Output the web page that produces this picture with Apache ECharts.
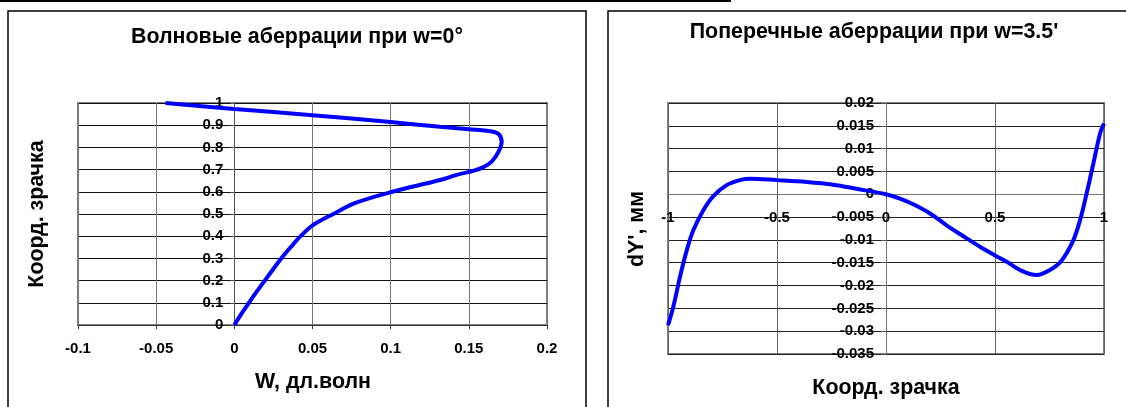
<!DOCTYPE html>
<html>
<head>
<meta charset="utf-8">
<script src="https://cdn.jsdelivr.net/npm/echarts@6/dist/echarts.min.js"></script>
<style>
html,body{margin:0;padding:0;background:#fff;}
#c{width:1126px;height:407px;}
</style>
</head>
<body>
<div id="c"></div>
<script>
// ---- Left chart: wave aberrations (W vs pupil coordinate)
const waveW = [0, 0.0045, 0.0093, 0.0143, 0.0195, 0.0247, 0.030, 0.036, 0.0424, 0.0503, 0.0633, 0.0775, 0.101, 0.1316, 0.1422, 0.153, 0.159, 0.1646, 0.169, 0.171, 0.169, 0.1635, 0.150, 0.1316, 0.100, 0.050, 0, -0.044];
const wavePupil = [0, 0.05, 0.1, 0.15, 0.2, 0.25, 0.3, 0.35, 0.4, 0.45, 0.5, 0.55, 0.6, 0.653, 0.676, 0.695, 0.71, 0.736, 0.781, 0.826, 0.86, 0.873, 0.882, 0.893, 0.914, 0.945, 0.973, 1.0];
const leftXTicks = [-0.1, -0.05, 0, 0.05, 0.1, 0.15, 0.2];
const leftYTicks = [0, 0.1, 0.2, 0.3, 0.4, 0.5, 0.6, 0.7, 0.8, 0.9, 1];

// ---- Right chart: transverse aberrations (dY' vs pupil coordinate)
const transPupil = [-1, -0.976, -0.945, -0.914, -0.884, -0.838, -0.792, -0.731, -0.67, -0.624, -0.5, -0.364, -0.242, -0.135, 0, 0.064, 0.125, 0.202, 0.278, 0.355, 0.431, 0.5, 0.554, 0.615, 0.691, 0.752, 0.806, 0.859, 0.89, 0.92, 0.951, 0.982, 1];
const transDY = [-0.0287, -0.0247, -0.0181, -0.0123, -0.0079, -0.0035, -0.0004, 0.0020, 0.0031, 0.0034, 0.0031, 0.0027, 0.0021, 0.0012, 0.0000, -0.00095, -0.0022, -0.0042, -0.0068, -0.0092, -0.0115, -0.0134, -0.0148, -0.0166, -0.0177, -0.0166, -0.0145, -0.0101, -0.0057, 0.0001, 0.0067, 0.0133, 0.0155];
const rightXTicks = [-1, -0.5, 0, 0.5, 1];
const rightYTicks = [-0.035, -0.03, -0.025, -0.02, -0.015, -0.01, -0.005, 0, 0.005, 0.01, 0.015, 0.02];

const titles = ['Волновые аберрации при w=0°', "Поперечные аберрации при w=3.5'"];
const axisNames = { leftX: 'W, дл.волн', leftY: 'Коорд. зрачка', rightX: 'Коорд. зрачка', rightY: "dY', мм" };

const FONT = "'Liberation Sans', Arial, sans-serif";
const labelStyle = { color: '#000', fontWeight: 'bold', fontSize: 15, fontFamily: FONT };

const leftData = waveW.map((w, i) => [w, wavePupil[i]]);
const rightData = transPupil.map((x, i) => [x, transDY[i]]);

function step(t) { return +(t[1] - t[0]).toFixed(6); }
function first(t) { return t[0]; }
function last(t) { return t[t.length - 1]; }

// grid boxes
const G1 = { left: 78, top: 103, width: 469, height: 222 };
const G2 = { left: 668, top: 103, width: 436, height: 251 };

// axis crossing at zero: offsets from the grid edge (axis layout, derived from scale ranges)
const leftYOffset = -(0 - first(leftXTicks)) / (last(leftXTicks) - first(leftXTicks)) * G1.width;
const rightYOffset = -(0 - first(rightXTicks)) / (last(rightXTicks) - first(rightXTicks)) * G2.width;
const rightXOffset = -(0 - first(rightYTicks)) / (last(rightYTicks) - first(rightYTicks)) * G2.height;

const chart = echarts.init(document.getElementById('c'), null, { renderer: 'canvas' });
chart.setOption({
  animation: false,
  backgroundColor: '#fff',
  title: [
    { text: titles[0], left: 297, top: 27, textAlign: 'center', padding: 0,
      textStyle: { fontSize: 21.4, fontWeight: 'bold', color: '#000', fontFamily: FONT } },
    { text: titles[1], left: 874, top: 22, textAlign: 'center', padding: 0,
      textStyle: { fontSize: 21.4, fontWeight: 'bold', color: '#000', fontFamily: FONT } }
  ],
  grid: [
    Object.assign({ show: true, borderColor: '#808080', borderWidth: 2, backgroundColor: 'transparent' }, G1),
    Object.assign({ show: true, borderColor: '#808080', borderWidth: 2, backgroundColor: 'transparent' }, G2)
  ],
  xAxis: [
    { type: 'value', gridIndex: 0, min: first(leftXTicks), max: last(leftXTicks), interval: step(leftXTicks),
      position: 'bottom',
      axisLine: { show: true, onZero: false, lineStyle: { color: '#333', width: 1 } },
      axisTick: { show: true, inside: false, length: 4, lineStyle: { color: '#333' } },
      axisLabel: Object.assign({ margin: 16 }, labelStyle),
      splitLine: { show: true, lineStyle: { color: '#777', width: 1 } } },
    { type: 'value', gridIndex: 1, min: first(rightXTicks), max: last(rightXTicks), interval: step(rightXTicks),
      position: 'bottom', offset: rightXOffset,
      axisLine: { show: true, onZero: false, lineStyle: { color: '#777', width: 1 } },
      axisTick: { show: true, inside: false, length: 4, lineStyle: { color: '#555' } },
      axisLabel: Object.assign({ margin: 16 }, labelStyle),
      splitLine: { show: true, lineStyle: { color: '#666', width: 1 } } }
  ],
  yAxis: [
    { type: 'value', gridIndex: 0, min: first(leftYTicks), max: last(leftYTicks), interval: step(leftYTicks),
      position: 'left', offset: leftYOffset,
      axisLine: { show: true, onZero: false, lineStyle: { color: '#555', width: 1 } },
      axisTick: { show: true, inside: false, length: 4, lineStyle: { color: '#555' } },
      axisLabel: Object.assign({ margin: 11 }, labelStyle),
      splitLine: { show: true, lineStyle: { color: '#111', width: 1 } } },
    { type: 'value', gridIndex: 1, min: first(rightYTicks), max: last(rightYTicks), interval: step(rightYTicks),
      position: 'left', offset: rightYOffset,
      axisLine: { show: true, onZero: false, lineStyle: { color: '#777', width: 1 } },
      axisTick: { show: true, inside: false, length: 5, lineStyle: { color: '#555' } },
      axisLabel: Object.assign({ margin: 12 }, labelStyle),
      splitLine: { show: true, lineStyle: { color: '#222', width: 1 } } }
  ],
  series: [
    { type: 'line', xAxisIndex: 0, yAxisIndex: 0, data: leftData, smooth: 0.35, showSymbol: false,
      lineStyle: { color: '#0000ff', width: 4 }, z: 5 },
    { type: 'line', xAxisIndex: 1, yAxisIndex: 1, data: rightData, smooth: 0.35, showSymbol: false,
      lineStyle: { color: '#0000ff', width: 4 }, z: 5 }
  ],
  graphic: [
    { type: 'line', shape: { x1: 0, y1: 1, x2: 731, y2: 1 }, style: { stroke: '#000', lineWidth: 2 } },
    { type: 'rect', shape: { x: 8, y: 11, width: 578, height: 430 }, style: { fill: 'none', stroke: '#000', lineWidth: 1.5 } },
    { type: 'rect', shape: { x: 608, y: 11, width: 560, height: 430 }, style: { fill: 'none', stroke: '#000', lineWidth: 1.5 } },
    { type: 'text', x: 313, y: 382, style: { text: axisNames.leftX, textAlign: 'center', textVerticalAlign: 'middle', fill: '#000', font: 'bold 21.4px ' + FONT } },
    { type: 'text', x: 37, y: 214, rotation: Math.PI / 2, style: { text: axisNames.leftY, textAlign: 'center', textVerticalAlign: 'middle', fill: '#000', font: 'bold 21.4px ' + FONT } },
    { type: 'text', x: 886, y: 388, style: { text: axisNames.rightX, textAlign: 'center', textVerticalAlign: 'middle', fill: '#000', font: 'bold 21.4px ' + FONT } },
    { type: 'text', x: 637, y: 229, rotation: Math.PI / 2, style: { text: axisNames.rightY, textAlign: 'center', textVerticalAlign: 'middle', fill: '#000', font: 'bold 21.4px ' + FONT } }
  ]
});
</script>
</body>
</html>
